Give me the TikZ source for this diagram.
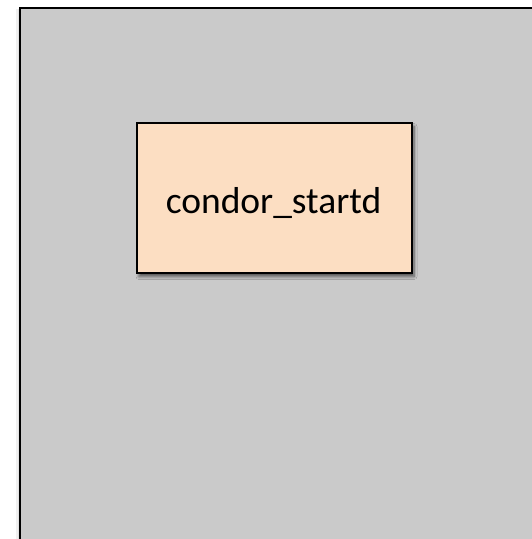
\documentclass[tikz,border=0pt]{standalone}
\usepackage{fontspec}
\setmainfont{Carlito}
\usetikzlibrary{shadows.blur}
\definecolor{panelgray}{HTML}{CACACA}
\definecolor{peach}{HTML}{FCDEC2}
\tikzset{
  x=1pt, y=-1pt,
  panel/.style={fill=panelgray, draw=black, line width=2pt},
  daemon/.style={draw=black, line width=1.2pt, fill=peach, minimum width=275pt,
    minimum height=150pt, inner sep=0pt,
    blur shadow={shadow xshift=2pt, shadow yshift=-3.5pt, shadow blur steps=6,
      shadow blur radius=3pt, shadow opacity=60}},
  daemonlabel/.style={font=\fontsize{37.5}{40}\selectfont, inner sep=0pt},
}
\begin{document}
\begin{tikzpicture}
  \useasboundingbox (0,0) rectangle (531,539);
  % soft edge on the left of the panel
  \fill[black, opacity=0.06] (16,9) rectangle (20,545);
  \fill[black, opacity=0.06] (17.5,9) rectangle (20,545);
  % host panel, running off the right and bottom
  \draw[panel] (20,8) rectangle (545,550);
  % the startd daemon
  \node[daemon] (startd) at (274.5,198) {};
  \node[daemonlabel, anchor=base] (startdlabel) at (273.5,213) {condor\_startd};
\end{tikzpicture}
\end{document}
